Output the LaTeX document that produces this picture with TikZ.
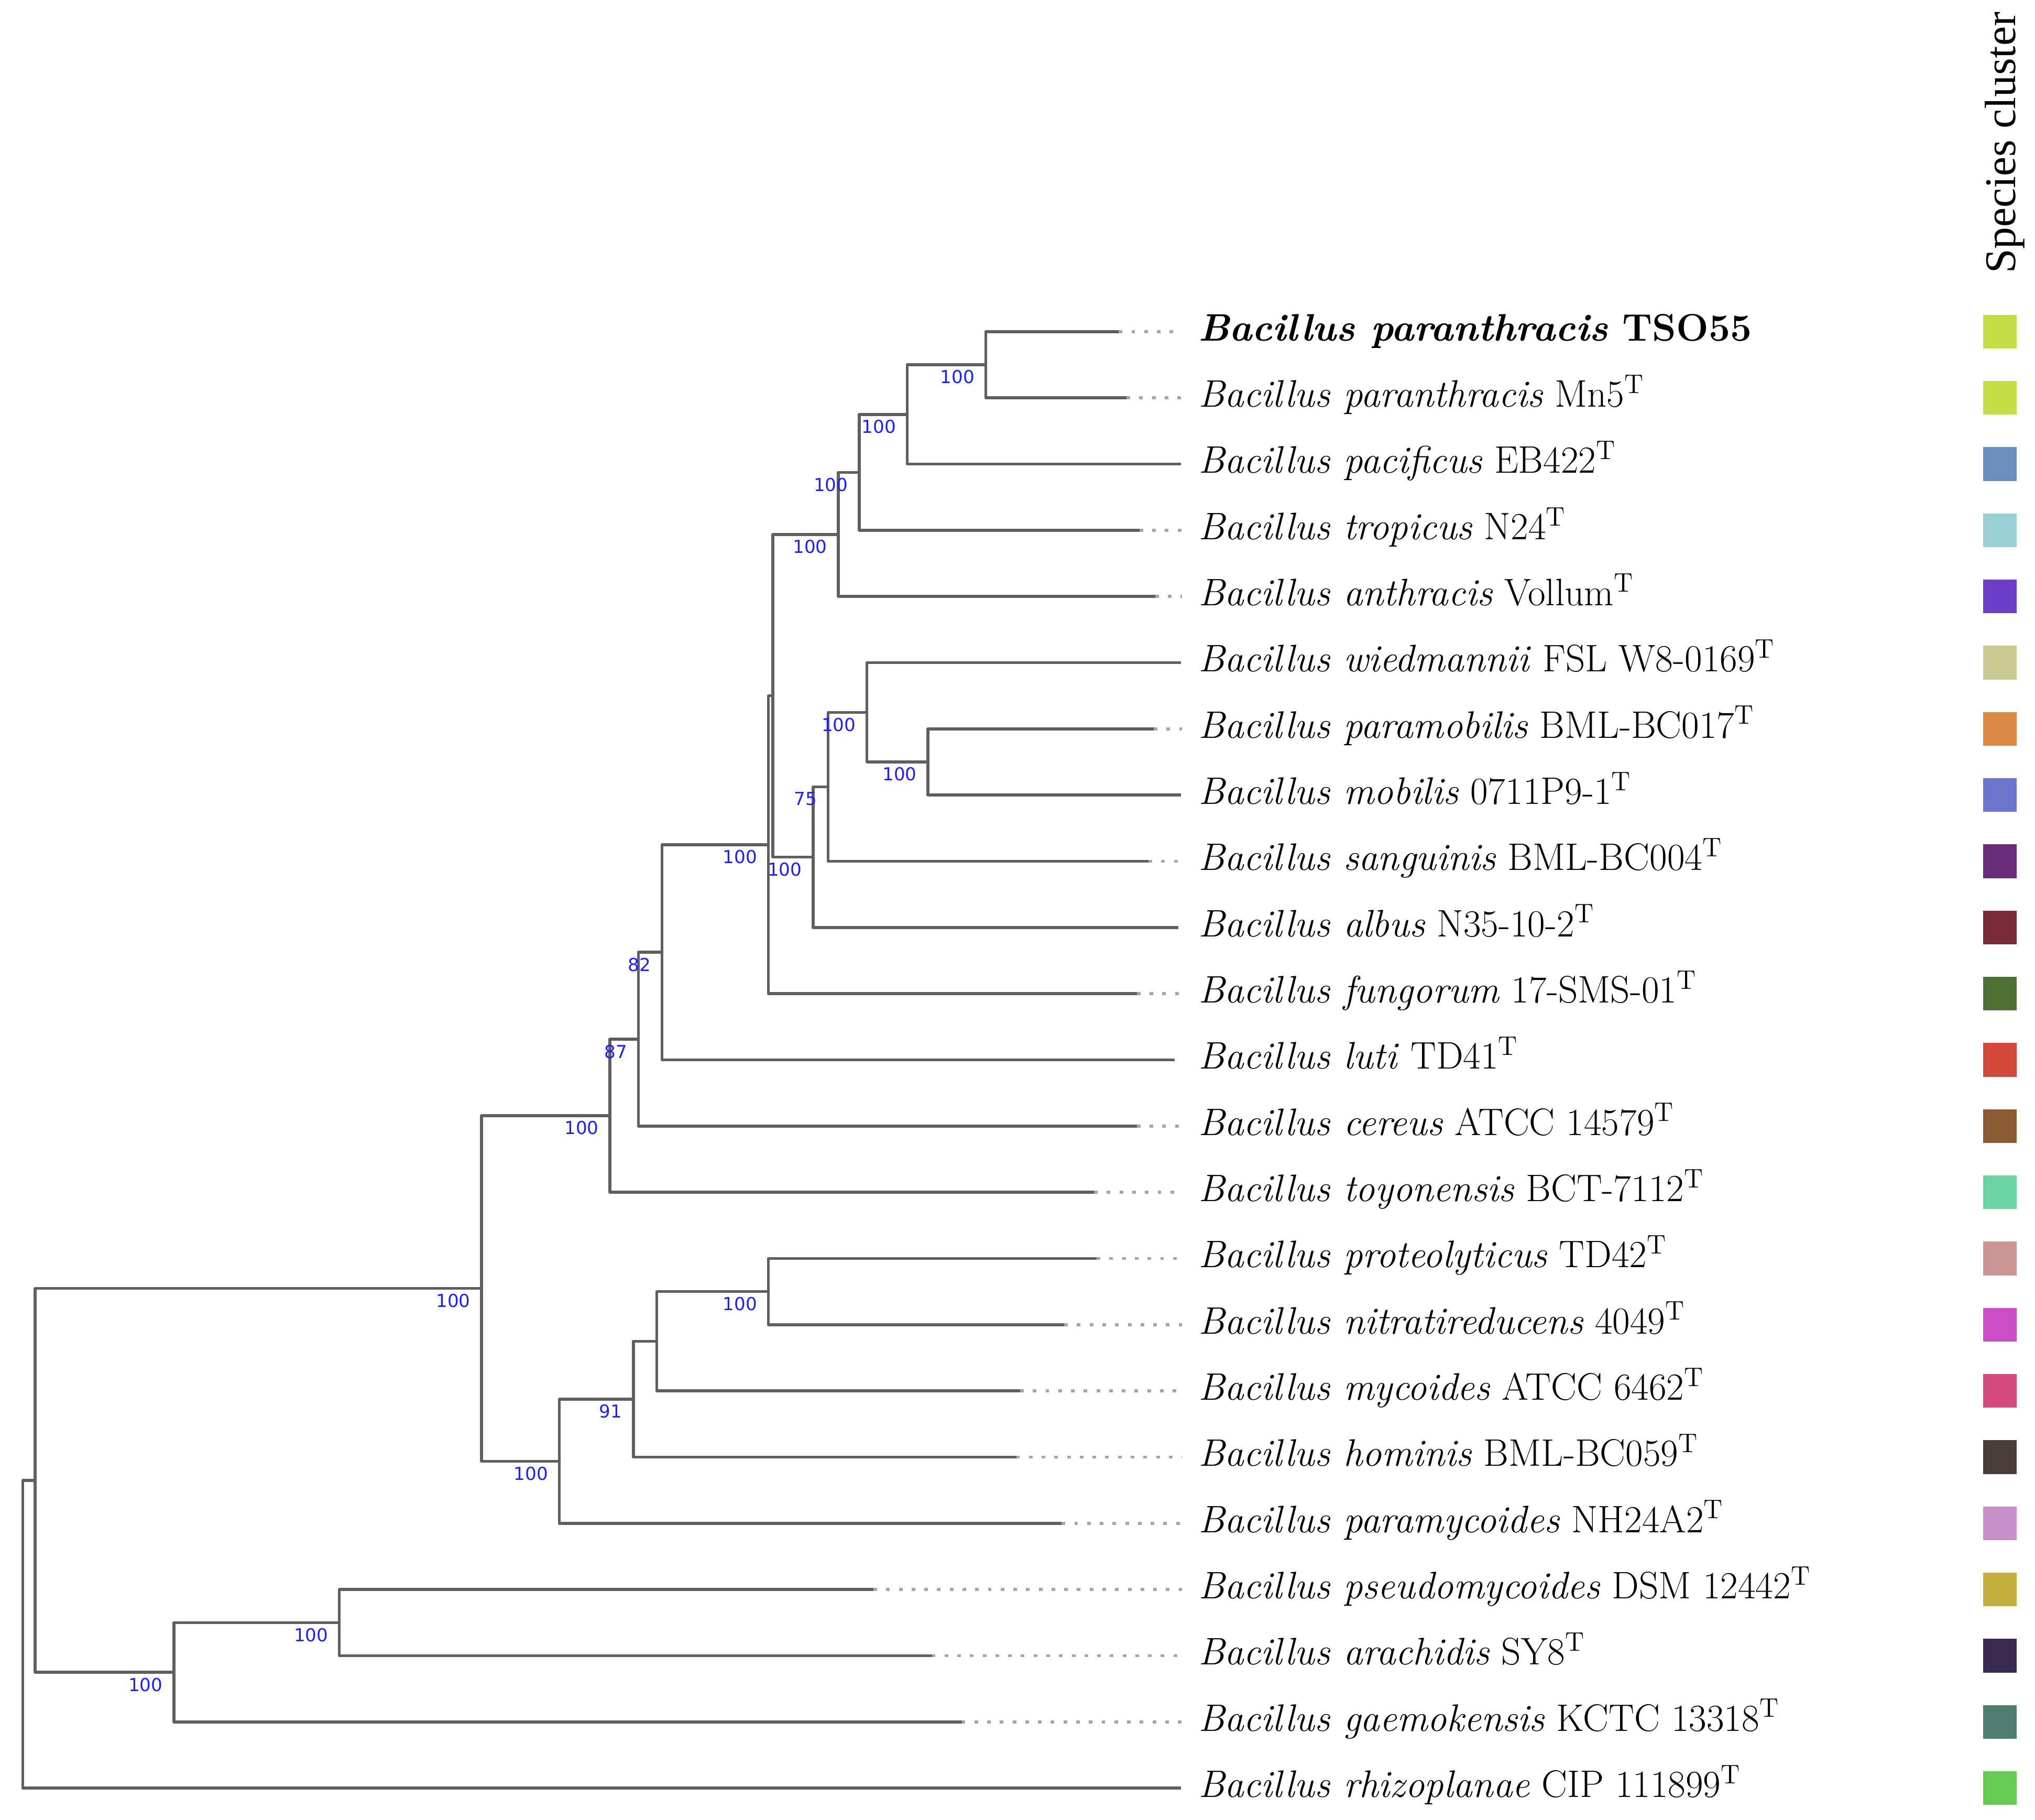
\documentclass[tikz,border=0pt]{standalone}
\usepackage{fontspec}
\usepackage{xcolor}
\newfontfamily\legendfont{Liberation Serif}
\newfontfamily\bootfont{DejaVu Sans}
\definecolor{branchgray}{RGB}{95,95,95}
\definecolor{dotgray}{RGB}{165,165,165}
\definecolor{bootblue}{RGB}{30,30,255}
\definecolor{cpar}{HTML}{C5DE45}
\definecolor{cpac}{HTML}{6A8FBF}
\definecolor{ctro}{HTML}{99D0D6}
\definecolor{cant}{HTML}{6B3FC8}
\definecolor{cwie}{HTML}{C8CA90}
\definecolor{cpmo}{HTML}{DB8A45}
\definecolor{cmob}{HTML}{6B75CC}
\definecolor{csan}{HTML}{6A2D7A}
\definecolor{calb}{HTML}{7A2A38}
\definecolor{cfun}{HTML}{4E7032}
\definecolor{clut}{HTML}{D44A3A}
\definecolor{ccer}{HTML}{8A5A30}
\definecolor{ctoy}{HTML}{6CD4A4}
\definecolor{cpro}{HTML}{CC9595}
\definecolor{cnit}{HTML}{CC4FC8}
\definecolor{cmyc}{HTML}{D44A7A}
\definecolor{chom}{HTML}{4A3E3C}
\definecolor{cpmy}{HTML}{C890C8}
\definecolor{cpse}{HTML}{C4AE3E}
\definecolor{cara}{HTML}{3A2C50}
\definecolor{cgae}{HTML}{4E7E70}
\definecolor{crhi}{HTML}{64CC50}

\begin{document}
\begin{tikzpicture}[x=0.25mm, y=-0.25mm,
    branch/.style={draw=branchgray, line width=0.55mm, line join=round},
    dotline/.style={draw=dotgray, line width=0.55mm, dash pattern=on 0.7mm off 1.75mm, shorten >=3.1mm},
    taxon/.style={anchor=base west, inner sep=0pt, font={\fontsize{21}{25}\selectfont}},
    boot/.style={anchor=north east, inner sep=0pt, xshift=-2.1mm, yshift=-1mm, text=bootblue, font={\bootfont\fontsize{9.8}{11}\selectfont}},
    cluster/.style={minimum size=6.5mm, inner sep=0pt}]

    \useasboundingbox (0,0) rectangle (1568,1402);

    % branch tips and taxon names
    \coordinate (t0) at (862,255.5);   \node[taxon] (l0) at (923,262.5) {\textbf{\textit{Bacillus paranthracis} TSO55}};
    \coordinate (t1) at (868,306.5);   \node[taxon] (l1) at (923,313.5) {\textit{Bacillus paranthracis} Mn5\textsuperscript{T}};
    \coordinate (t2) at (910,357.5);   \node[taxon] (l2) at (923,364.5) {\textit{Bacillus pacificus} EB422\textsuperscript{T}};
    \coordinate (t3) at (878,408.5);   \node[taxon] (l3) at (923,415.5) {\textit{Bacillus tropicus} N24\textsuperscript{T}};
    \coordinate (t4) at (890,459.5);   \node[taxon] (l4) at (923,466.5) {\textit{Bacillus anthracis} Vollum\textsuperscript{T}};
    \coordinate (t5) at (910,510.5);   \node[taxon] (l5) at (923,517.5) {\textit{Bacillus wiedmannii} FSL W8-0169\textsuperscript{T}};
    \coordinate (t6) at (889,561.5);   \node[taxon] (l6) at (923,568.5) {\textit{Bacillus paramobilis} BML-BC017\textsuperscript{T}};
    \coordinate (t7) at (910,612.5);   \node[taxon] (l7) at (923,619.5) {\textit{Bacillus mobilis} 0711P9-1\textsuperscript{T}};
    \coordinate (t8) at (885,663.5);   \node[taxon] (l8) at (923,670.5) {\textit{Bacillus sanguinis} BML-BC004\textsuperscript{T}};
    \coordinate (t9) at (908,714.5);   \node[taxon] (l9) at (923,721.5) {\textit{Bacillus albus} N35-10-2\textsuperscript{T}};
    \coordinate (t10) at (876,765.5);  \node[taxon] (l10) at (923,772.5) {\textit{Bacillus fungorum} 17-SMS-01\textsuperscript{T}};
    \coordinate (t11) at (905,816.5);  \node[taxon] (l11) at (923,823.5) {\textit{Bacillus luti} TD41\textsuperscript{T}};
    \coordinate (t12) at (876,867.5);  \node[taxon] (l12) at (923,874.5) {\textit{Bacillus cereus} ATCC 14579\textsuperscript{T}};
    \coordinate (t13) at (843,918.5);  \node[taxon] (l13) at (923,925.5) {\textit{Bacillus toyonensis} BCT-7112\textsuperscript{T}};
    \coordinate (t14) at (845,969.5);  \node[taxon] (l14) at (923,976.5) {\textit{Bacillus proteolyticus} TD42\textsuperscript{T}};
    \coordinate (t15) at (820,1020.5); \node[taxon] (l15) at (923,1027.5) {\textit{Bacillus nitratireducens} 4049\textsuperscript{T}};
    \coordinate (t16) at (786,1071.5); \node[taxon] (l16) at (923,1078.5) {\textit{Bacillus mycoides} ATCC 6462\textsuperscript{T}};
    \coordinate (t17) at (783,1122.5); \node[taxon] (l17) at (923,1129.5) {\textit{Bacillus hominis} BML-BC059\textsuperscript{T}};
    \coordinate (t18) at (818,1173.5); \node[taxon] (l18) at (923,1180.5) {\textit{Bacillus paramycoides} NH24A2\textsuperscript{T}};
    \coordinate (t19) at (673,1224.5); \node[taxon] (l19) at (923,1231.5) {\textit{Bacillus pseudomycoides} DSM 12442\textsuperscript{T}};
    \coordinate (t20) at (718,1275.5); \node[taxon] (l20) at (923,1282.5) {\textit{Bacillus arachidis} SY8\textsuperscript{T}};
    \coordinate (t21) at (741,1326.5); \node[taxon] (l21) at (923,1333.5) {\textit{Bacillus gaemokensis} KCTC 13318\textsuperscript{T}};
    \coordinate (t22) at (910,1377.5); \node[taxon] (l22) at (923,1384.5) {\textit{Bacillus rhizoplanae} CIP 111899\textsuperscript{T}};

    % dotted leaders
    \draw[dotline] (t0) -- (t0 -| l0.west);
    \draw[dotline] (t1) -- (t1 -| l1.west);
    \draw[dotline] (t3) -- (t3 -| l3.west);
    \draw[dotline] (t4) -- (t4 -| l4.west);
    \draw[dotline] (t6) -- (t6 -| l6.west);
    \draw[dotline] (t8) -- (t8 -| l8.west);
    \draw[dotline] (t10) -- (t10 -| l10.west);
    \draw[dotline] (t12) -- (t12 -| l12.west);
    \draw[dotline] (t13) -- (t13 -| l13.west);
    \draw[dotline] (t14) -- (t14 -| l14.west);
    \draw[dotline] (t15) -- (t15 -| l15.west);
    \draw[dotline] (t16) -- (t16 -| l16.west);
    \draw[dotline] (t17) -- (t17 -| l17.west);
    \draw[dotline] (t18) -- (t18 -| l18.west);
    \draw[dotline] (t19) -- (t19 -| l19.west);
    \draw[dotline] (t20) -- (t20 -| l20.west);
    \draw[dotline] (t21) -- (t21 -| l21.west);

    % internal nodes
    \coordinate (A) at (759.5,281);
    \coordinate (B) at (699,319.25);
    \coordinate (C) at (662,363.9);
    \coordinate (D) at (646,411.7);
    \coordinate (E) at (715,587);
    \coordinate (F) at (668,548.75);
    \coordinate (G) at (638,606.1);
    \coordinate (H) at (626.5,660.3);
    \coordinate (Q) at (595.5,536);
    \coordinate (P) at (592,650.75);
    \coordinate (J) at (510,733.6);
    \coordinate (K) at (492,800.6);
    \coordinate (L) at (470,859.5);
    \coordinate (R) at (592,995);
    \coordinate (S) at (506,1033.25);
    \coordinate (T) at (488,1077.9);
    \coordinate (U) at (431,1125.7);
    \coordinate (M) at (371,992.6);
    \coordinate (V) at (261.5,1250);
    \coordinate (W) at (134,1288.25);
    \coordinate (N) at (27,1140.4);
    \coordinate (root) at (17.5,1259);

    % branches
    \draw[branch] (A) |- (t0) (A) |- (t1);
    \draw[branch] (B) |- (A) (B) |- (t2);
    \draw[branch] (C) |- (B) (C) |- (t3);
    \draw[branch] (D) |- (C) (D) |- (t4);
    \draw[branch] (E) |- (t6) (E) |- (t7);
    \draw[branch] (F) |- (t5) (F) |- (E);
    \draw[branch] (G) |- (F) (G) |- (t8);
    \draw[branch] (H) |- (G) (H) |- (t9);
    \draw[branch] (Q) |- (D) (Q) |- (H);
    \draw[branch] (P) |- (Q) (P) |- (t10);
    \draw[branch] (J) |- (P) (J) |- (t11);
    \draw[branch] (K) |- (J) (K) |- (t12);
    \draw[branch] (L) |- (K) (L) |- (t13);
    \draw[branch] (R) |- (t14) (R) |- (t15);
    \draw[branch] (S) |- (R) (S) |- (t16);
    \draw[branch] (T) |- (S) (T) |- (t17);
    \draw[branch] (U) |- (T) (U) |- (t18);
    \draw[branch] (M) |- (L) (M) |- (U);
    \draw[branch] (V) |- (t19) (V) |- (t20);
    \draw[branch] (W) |- (V) (W) |- (t21);
    \draw[branch] (N) |- (M) (N) |- (W);
    \draw[branch] (root) |- (N) (root) |- (t22);

    % bootstrap values
    \node[boot] (bA) at (A) {100};
    \node[boot] (bB) at (B) {100};
    \node[boot] (bC) at (C) {100};
    \node[boot] (bD) at (D) {100};
    \node[boot] (bE) at (E) {100};
    \node[boot] (bF) at (F) {100};
    \node[boot] (bG) at (G) {75};
    \node[boot] (bH) at (H) {100};
    \node[boot] (bP) at (P) {100};
    \node[boot] (bJ) at (J) {82};
    \node[boot] (bK) at (K) {87};
    \node[boot] (bL) at (L) {100};
    \node[boot] (bR) at (R) {100};
    \node[boot] (bT) at (T) {91};
    \node[boot] (bU) at (U) {100};
    \node[boot] (bM) at (M) {100};
    \node[boot] (bV) at (V) {100};
    \node[boot] (bW) at (W) {100};

    % species cluster strip
    \node[rotate=90, anchor=base west, inner sep=0pt, font={\legendfont\fontsize{24}{28}\selectfont}] (legend) at (1553,211) {Species cluster};
    \node[cluster, fill=cpar] (s0) at (1541,255.5) {};
    \node[cluster, fill=cpar] (s1) at (1541,306.5) {};
    \node[cluster, fill=cpac] (s2) at (1541,357.5) {};
    \node[cluster, fill=ctro] (s3) at (1541,408.5) {};
    \node[cluster, fill=cant] (s4) at (1541,459.5) {};
    \node[cluster, fill=cwie] (s5) at (1541,510.5) {};
    \node[cluster, fill=cpmo] (s6) at (1541,561.5) {};
    \node[cluster, fill=cmob] (s7) at (1541,612.5) {};
    \node[cluster, fill=csan] (s8) at (1541,663.5) {};
    \node[cluster, fill=calb] (s9) at (1541,714.5) {};
    \node[cluster, fill=cfun] (s10) at (1541,765.5) {};
    \node[cluster, fill=clut] (s11) at (1541,816.5) {};
    \node[cluster, fill=ccer] (s12) at (1541,867.5) {};
    \node[cluster, fill=ctoy] (s13) at (1541,918.5) {};
    \node[cluster, fill=cpro] (s14) at (1541,969.5) {};
    \node[cluster, fill=cnit] (s15) at (1541,1020.5) {};
    \node[cluster, fill=cmyc] (s16) at (1541,1071.5) {};
    \node[cluster, fill=chom] (s17) at (1541,1122.5) {};
    \node[cluster, fill=cpmy] (s18) at (1541,1173.5) {};
    \node[cluster, fill=cpse] (s19) at (1541,1224.5) {};
    \node[cluster, fill=cara] (s20) at (1541,1275.5) {};
    \node[cluster, fill=cgae] (s21) at (1541,1326.5) {};
    \node[cluster, fill=crhi] (s22) at (1541,1377.5) {};

\end{tikzpicture}
\end{document}
